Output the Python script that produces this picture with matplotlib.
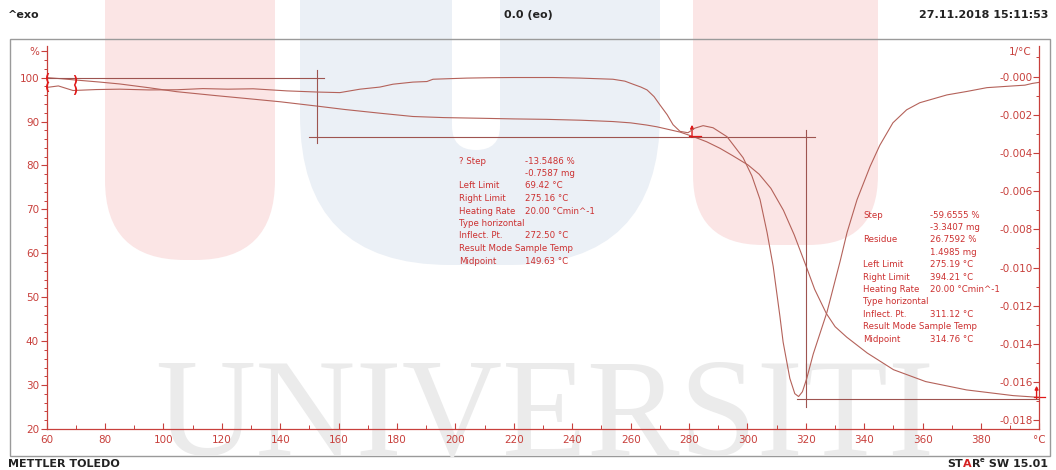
import numpy as np
import matplotlib
matplotlib.use("Agg")
import matplotlib.pyplot as plt
from matplotlib.patches import FancyBboxPatch, Rectangle
from matplotlib.ticker import MultipleLocator

# ---------------- data ----------------
# TGA curve: sample mass (%) against temperature (°C)
tga_temp = [60, 65, 70, 78, 85.1, 95, 104.5, 118, 130.7, 140, 152.8, 162, 174.1,
            185.4, 196, 208.4, 220, 231.2, 243, 253.9, 260, 265.5, 269, 272.3,
            276.9, 281.3, 286, 290.6, 295, 300.2, 304, 308, 312.3, 316, 320, 323,
            327, 330, 334, 341, 350, 361, 375, 391, 400]
tga_mass = [100.0, 99.75, 99.45, 99.0, 98.55, 97.7, 96.8, 95.9, 95.1, 94.5, 93.5,
            92.75, 91.9, 91.15, 90.9, 90.75, 90.6, 90.5, 90.3, 90.0, 89.7, 89.2,
            88.8, 88.3, 87.6, 86.6, 85.4, 83.9, 82.2, 80.1, 78.0, 74.8, 69.8, 64.2,
            57.2, 51.8, 46.3, 43.3, 40.9, 37.3, 33.5, 30.8, 28.9, 27.6, 27.2]

# DTG curve: first derivative (1/°C) against temperature (°C)
dtg_temp = [60, 64, 69, 77, 85, 95, 104.6, 113.5, 122, 130.7, 142.3, 152.6, 160.4,
            167.3, 174.1, 178.6, 185.4, 190.2, 192.3, 198, 203.9, 212, 219.7, 233.4,
            242.6, 253.9, 258, 260.8, 263.5, 265.6, 268, 270, 272.5, 274.5, 276.9,
            279.6, 282, 284.8, 288.2, 293, 298.5, 301.5, 304.3, 306.7, 308.8, 311.1,
            312.2, 314.5, 316.2, 317.5, 318.8, 320.3, 322.5, 327.2, 331.7, 334.1,
            337.5, 342, 345.3, 349.8, 354.5, 359, 368.3, 375.1, 382, 390.9, 395,
            397.5, 400]
dtg_rate = [-0.00057, -0.00049, -0.00073, -0.00068, -0.00066, -0.00070, -0.00069,
            -0.00063, -0.00066, -0.00064, -0.00075, -0.00081, -0.00084, -0.00066,
            -0.00055, -0.00040, -0.00029, -0.00026, -0.00014, -0.00011, -0.00008,
            -0.00006, -0.00005, -0.00005, -0.00008, -0.00014, -0.00024, -0.00040,
            -0.00055, -0.00070, -0.00105, -0.00148, -0.00200, -0.00252, -0.00287,
            -0.00294, -0.00270, -0.00257, -0.00268, -0.00315, -0.00425, -0.00520,
            -0.00644, -0.00816, -0.00994, -0.01255, -0.01390, -0.01580, -0.01660,
            -0.01675, -0.01650, -0.01580, -0.01453, -0.01234, -0.00968, -0.00816,
            -0.00645, -0.00470, -0.00360, -0.00242, -0.00174, -0.00137, -0.00096,
            -0.00078, -0.00058, -0.00049, -0.00045, -0.00036, -0.00030]

x_ticks = [60, 80, 100, 120, 140, 160, 180, 200, 220, 240, 260, 280, 300, 320,
           340, 360, 380, 400]
x_tick_labels = ['60', '80', '100', '120', '140', '160', '180', '200', '220', '240',
                 '260', '280', '300', '320', '340', '360', '380', '°C']
mass_ticks = [20, 30, 40, 50, 60, 70, 80, 90, 100, 106]
mass_tick_labels = ['20', '30', '40', '50', '60', '70', '80', '90', '100', '%']
rate_ticks = [0.0, -0.002, -0.004, -0.006, -0.008, -0.010, -0.012, -0.014,
              -0.016, -0.018]
rate_tick_labels = ['-0.000', '-0.002', '-0.004', '-0.006', '-0.008', '-0.010',
                    '-0.012', '-0.014', '-0.016', '-0.018']

# step evaluations
step1_change = -13.5486
step1_left_limit = 69.42
step2_change = -59.6555
step2_residue = 26.7592
start_level = 100.0
step_marker_temps = [152.5, 320.0]     # vertical construction lines (plot temperature)
step_right_marks = [281.0, 399.0]      # right-limit arrows (plot temperature)

step1_labels = ["? Step", "", "Left Limit", "Right Limit", "Heating Rate",
                "Type horizontal", "Inflect. Pt.", "Result Mode Sample Temp", "Midpoint"]
step1_values = ["-13.5486 %", "-0.7587 mg", "69.42 °C", "275.16 °C",
                "20.00 °Cmin^-1", "", "272.50 °C", "", "149.63 °C"]
step2_labels = ["Step", "", "Residue", "", "Left Limit", "Right Limit",
                "Heating Rate", "Type horizontal", "Inflect. Pt.",
                "Result Mode Sample Temp", "Midpoint"]
step2_values = ["-59.6555 %", "-3.3407 mg", "26.7592 %", "1.4985 mg", "275.19 °C",
                "394.21 °C", "20.00 °Cmin^-1", "", "311.12 °C", "", "314.76 °C"]

# ---------------- styling ----------------
W, H = 1056, 470
AX_RED = '#c8403c'
CURVE = '#b4625a'
CONSTR = '#9e5450'
NOTE_RED = '#cc3030'
MARK_RED = '#e01818'
NARROW = ['Liberation Sans Narrow', 'DejaVu Sans']

fig = plt.figure(figsize=(W / 100, H / 100), dpi=100)

# background layer in pixel units (frame, header, footer, watermark)
bg = fig.add_axes([0, 0, 1, 1], zorder=0)
bg.set_xlim(0, W)
bg.set_ylim(H, 0)
bg.axis('off')

pink = '#fbe5e5'
blue = '#ebf0f6'
bg.add_patch(FancyBboxPatch((105, -300), 170, 560,
                            boxstyle='round,pad=0,rounding_size=80', fc=pink, ec='none'))
bg.add_patch(FancyBboxPatch((300, -300), 360, 565,
                            boxstyle='round,pad=0,rounding_size=150', fc=blue, ec='none'))
bg.add_patch(FancyBboxPatch((452, -300), 48, 450,
                            boxstyle='round,pad=0,rounding_size=24', fc='white', ec='none'))
bg.add_patch(FancyBboxPatch((693, -300), 185, 545,
                            boxstyle='round,pad=0,rounding_size=70', fc=pink, ec='none'))
bg.text(545, 455, 'UNIVERSITI', fontsize=100, family='Liberation Serif',
        color='#ebebeb', ha='center', va='baseline')

bg.add_patch(Rectangle((10, 39), 1040, 417, fill=False, ec='#9a9a9a', lw=1.0))

hdr = dict(family=NARROW, fontsize=8, weight='bold', color='#222222', va='center')
bg.text(8, 15, '^exo', ha='left', **hdr)
bg.text(528, 15, '0.0 (eo)', ha='center', **hdr)
bg.text(1048, 15, '27.11.2018 15:11:53', ha='right', **hdr)
bg.text(8, 464, 'METTLER TOLEDO', ha='left', **hdr)

# footer product name, assembled right to left
ftr = dict(family=NARROW, fontsize=8, weight='bold', color='#222222')
t_sw = bg.text(1048, 464, ' SW 15.01', ha='right', va='center', **ftr)
t_e = bg.annotate('e', xy=(0, 0.55), xycoords=t_sw, ha='right', va='bottom',
                  family=NARROW, fontsize=5, weight='bold', color='#222222')
t_r = bg.annotate('R', xy=(0, 0), xycoords=(t_e, t_sw), ha='right', va='bottom', **ftr)
t_a = bg.annotate('A', xy=(0, 0), xycoords=t_r, ha='right', va='bottom',
                  family=NARROW, fontsize=8, weight='bold', color='#d42020')
bg.annotate('ST', xy=(0, 0), xycoords=t_a, ha='right', va='bottom', **ftr)

# evaluation result blocks
note = dict(family='DejaVu Sans', fontsize=6.2, color=NOTE_RED, va='center')
for i, (lab, val) in enumerate(zip(step1_labels, step1_values)):
    y = 161 + i * 12.5
    bg.text(459, y, lab, ha='left', **note)
    bg.text(525, y, val, ha='left', **note)
for i, (lab, val) in enumerate(zip(step2_labels, step2_values)):
    y = 215 + i * 12.4
    bg.text(863, y, lab, ha='left', **note)
    bg.text(930, y, val, ha='left', **note)

# unit label of the derivative axis
bg.text(1032, 52, '1/°C', ha='right', va='center', fontsize=7.5, color=AX_RED,
        family='DejaVu Sans')

# ---------------- main axes ----------------
left, right, bottom, top = 46.7, 1039.5, 429.0, 46.0
ax = fig.add_axes([left / W, 1 - bottom / H, (right - left) / W, (bottom - top) / H],
                  zorder=2)
ax.patch.set_visible(False)
ax2 = ax.twinx()
ax2.set_zorder(3)
ax2.patch.set_visible(False)

ax.set_xlim(60, 400)
ax.set_ylim(20, 107.2)
ax2.set_ylim(-0.01845, 0.0016)

for a in (ax, ax2):
    a.spines['top'].set_visible(False)
    for s in ('left', 'right', 'bottom'):
        a.spines[s].set_color(AX_RED)
        a.spines[s].set_linewidth(0.9)
ax.spines['right'].set_visible(False)
ax2.spines['left'].set_visible(False)
ax2.spines['bottom'].set_visible(False)

ax.set_xticks(x_ticks)
ax.set_xticklabels(x_tick_labels)
ax.xaxis.set_minor_locator(MultipleLocator(10))
ax.tick_params(axis='x', which='major', direction='in', length=4, width=0.8,
               colors=AX_RED, labelsize=7.5, pad=4)
ax.tick_params(axis='x', which='minor', direction='in', length=3, width=0.7,
               colors=AX_RED)

ax.set_yticks(mass_ticks)
ax.set_yticklabels(mass_tick_labels)
ax.yaxis.set_minor_locator(MultipleLocator(2))
ax.tick_params(axis='y', which='major', direction='out', length=4, width=0.8,
               colors=AX_RED, labelsize=7.5, pad=1.5)
ax.tick_params(axis='y', which='minor', direction='out', length=2.5, width=0.7,
               colors=AX_RED)

ax2.set_yticks(rate_ticks)
ax2.set_yticklabels(rate_tick_labels)
ax2.yaxis.set_minor_locator(MultipleLocator(0.001))
ax2.tick_params(axis='y', which='major', direction='in', length=4, width=0.8,
                colors=AX_RED, labelsize=7.5, pad=-5.0)
ax2.tick_params(axis='y', which='minor', direction='in', length=2.5, width=0.7,
                colors=AX_RED)
for lbl in ax2.get_yticklabels():
    lbl.set_horizontalalignment('right')

# curves
ax.plot(tga_temp, tga_mass, color=CURVE, lw=0.8)
ax2.plot(dtg_temp, dtg_rate, color=CURVE, lw=0.8)

# step construction lines
lvl1_end = start_level + step1_change
lvl2_start = step2_residue - step2_change
ax.plot([60, step_marker_temps[0] + 2.5], [start_level, start_level], color=CONSTR, lw=0.8)
ax.plot([step_marker_temps[0], step_marker_temps[0]], [start_level + 1.8, lvl1_end - 1.3],
        color=CONSTR, lw=0.8)
ax.plot([step_marker_temps[0] - 2.5, step_marker_temps[1] + 3], [lvl1_end, lvl1_end],
        color=CONSTR, lw=0.8)
ax.plot([step_marker_temps[1], step_marker_temps[1]], [lvl2_start + 1.6, step2_residue - 1.8],
        color=CONSTR, lw=0.8)
ax.plot([step_marker_temps[1] - 3, 400], [step2_residue, step2_residue],
        color=CONSTR, lw=0.8)

# evaluation limit markers
tga_at_left = np.interp(step1_left_limit, tga_temp, tga_mass)
dtg_at_left = np.interp(step1_left_limit, dtg_temp, dtg_rate)
bk = dict(color=MARK_RED, fontsize=8, weight='bold', ha='center', va='center',
          family='DejaVu Sans')
ax.text(60.4, tga_mass[0], '(', **bk)
ax2.text(60.4, dtg_rate[0], '(', **bk)
ax.text(step1_left_limit, tga_at_left, ')', **bk)
ax2.text(step1_left_limit, dtg_at_left, ')', **bk)

for tx in step_right_marks:
    ty = np.interp(tx, tga_temp, tga_mass)
    ax.annotate('', xy=(tx, ty + 2.6), xytext=(tx, ty - 0.3),
                arrowprops=dict(arrowstyle='-|>', color=MARK_RED, lw=1.0,
                                mutation_scale=5, shrinkA=0, shrinkB=0),
                annotation_clip=False)
    ax.plot([tx - 1, tx + 3], [ty, ty], color=MARK_RED, lw=0.9, clip_on=False)

fig.savefig('out.png', dpi=100)
